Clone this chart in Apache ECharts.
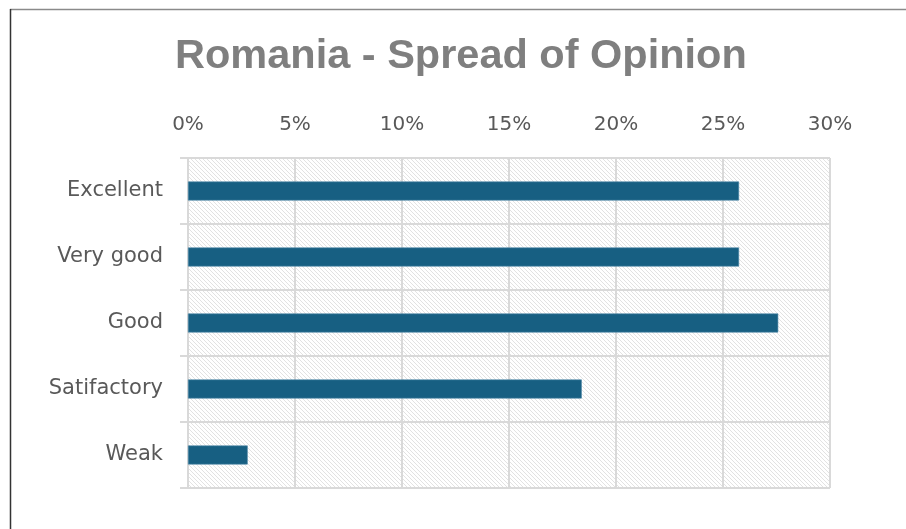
<!DOCTYPE html>
<html>
<head>
<meta charset="utf-8">
<style>
  html, body { margin: 0; padding: 0; background: #ffffff; }
  #chart { width: 906px; height: 529px; }
</style>
<script src="https://cdn.jsdelivr.net/npm/echarts@6/dist/echarts.min.js"></script>
</head>
<body>
<div id="chart"></div>
<script>
// Opinion categories, top to bottom
const categories = ['Excellent', 'Very good', 'Good', 'Satifactory', 'Weak'];
// Share of respondents per category (fraction of 1)
const shares = [0.2575, 0.2575, 0.2758, 0.1840, 0.0279];
// Value axis ticks
const axisMin = 0;
const axisMax = 0.30;
const axisStep = 0.05;

// Light diagonal hatch used as the plot-area fill
function hatchPattern() {
  const p = 4;
  const c = document.createElement('canvas');
  c.width = p; c.height = p;
  const ctx = c.getContext('2d');
  ctx.fillStyle = '#ffffff';
  ctx.fillRect(0, 0, p, p);
  ctx.fillStyle = '#e2e2e2';
  for (let x = 0; x < p; x++) {
    ctx.fillRect(x, x, 1, 1);
  }
  return { image: c, repeat: 'repeat' };
}

const chart = echarts.init(document.getElementById('chart'), null, { renderer: 'canvas' });

const labelFont = 'DejaVu Sans';

chart.setOption({
  animation: false,
  backgroundColor: '#ffffff',
  title: {
    text: 'Romania - Spread of Opinion',
    left: 170,
    top: 31,
    textStyle: {
      fontFamily: 'Liberation Sans',
      fontWeight: 'bold',
      fontSize: 41.5,
      color: '#7f7f7f'
    }
  },
  graphic: [
    { type: 'line', shape: { x1: 10, y1: 9.5, x2: 906, y2: 9.5 }, style: { stroke: '#8a8a8a', lineWidth: 1.5 } },
    { type: 'line', shape: { x1: 10.5, y1: 9, x2: 10.5, y2: 529 }, style: { stroke: '#333333', lineWidth: 1.5 } }
  ],
  grid: {
    left: 188,
    right: 76,
    top: 158,
    bottom: 41,
    show: true,
    borderWidth: 0,
    backgroundColor: hatchPattern()
  },
  xAxis: {
    type: 'value',
    position: 'top',
    min: axisMin,
    max: axisMax,
    interval: axisStep,
    axisLine: { show: false },
    axisTick: { show: false },
    splitLine: { show: true, lineStyle: { color: '#d9d9d9', width: 2 } },
    axisLabel: {
      margin: 23,
      fontFamily: labelFont,
      fontSize: 20,
      color: '#595959'
      ,formatter: v => Math.round(v * 100) + '%'
    }
  },
  yAxis: {
    type: 'category',
    data: categories,
    inverse: true,
    axisLine: { show: true, lineStyle: { color: '#d9d9d9', width: 2 } },
    axisTick: { show: true, length: 8, lineStyle: { color: '#d9d9d9', width: 2 } },
    splitLine: { show: true, lineStyle: { color: '#d9d9d9', width: 2 } },
    axisLabel: {
      margin: 25,
      fontFamily: labelFont,
      fontSize: 21,
      color: '#595959'
    }
  },
  series: [{
    type: 'bar',
    data: shares,
    barWidth: 19,
    itemStyle: {
      color: '#175f82',
      borderColor: '#4d86a6',
      borderWidth: 0.6
    }
  }]
});
</script>
</body>
</html>
